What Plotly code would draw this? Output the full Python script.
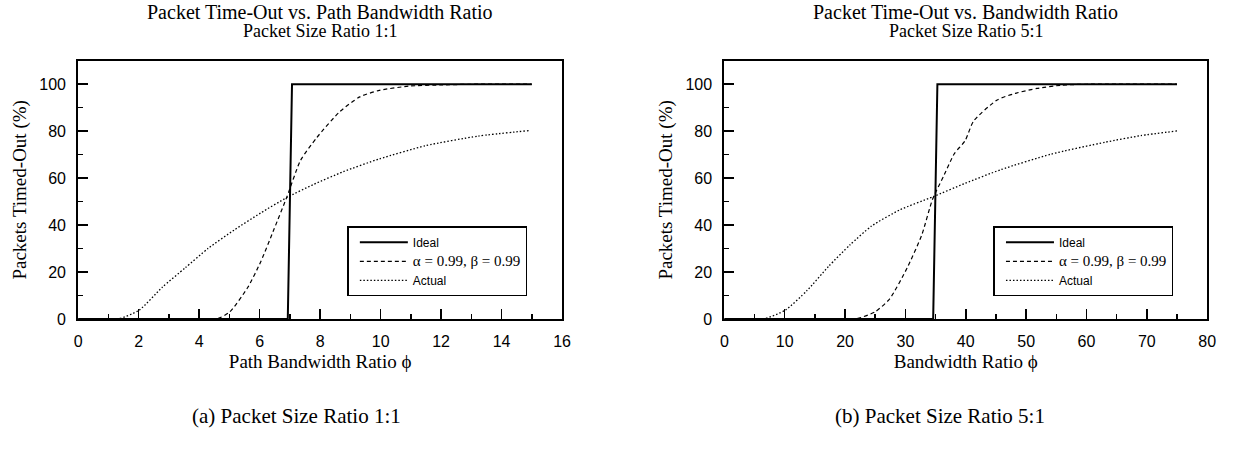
import plotly.graph_objects as go

# ---------------- data ----------------
# (a) Packet size ratio 1:1
a_ideal_x = [0, 6.93, 7.07, 15]
a_ideal_y = [0, 0, 100, 100]
a_ab_x = [0, 4.57, 5.01, 5.61, 6.04, 6.48, 6.91, 7.35, 7.89, 8.65, 9.31, 9.96, 10.94, 12.03, 13.0, 15]
a_ab_y = [0, 0, 3.0, 13.5, 24.5, 38.4, 52.3, 67.5, 77.3, 88.3, 94.6, 97.4, 99.2, 99.7, 100, 100]
a_act_x = [0, 1.31, 2.01, 2.78, 3.54, 4.30, 5.17, 6.04, 6.91, 7.78, 8.76, 9.96, 11.48, 13.22, 14.94]
a_act_y = [0, 0, 3.7, 13.5, 21.8, 30.1, 38.0, 45.2, 51.8, 57.3, 62.7, 68.2, 73.8, 77.9, 80.3]

# (b) Packet size ratio 5:1
b_ideal_x = [0, 34.6, 35.3, 75]
b_ideal_y = [0, 0, 100, 100]
b_ab_x = [0, 21.7, 25.0, 27.4, 30.3, 32.7, 34.5, 36.3, 38.1, 39.9, 41.3, 45.2, 48.2, 51.8, 55.9, 60.0, 75]
b_ab_y = [0, 0, 3.1, 8.6, 21.8, 35.7, 51.0, 60.7, 70.4, 76.0, 84.3, 93.3, 96.1, 98.2, 99.6, 100, 100]
b_act_x = [0, 6.5, 10.1, 13.7, 17.3, 20.8, 24.4, 29.1, 34.5, 39.9, 45.8, 54.1, 63.1, 69.0, 75]
b_act_y = [0, 0, 3.75, 12.1, 22.5, 31.5, 39.6, 46.5, 52.0, 57.8, 63.6, 70.2, 75.3, 78.1, 80.1]

series_names = ["Ideal", "α = 0.99, β = 0.99", "Actual"]
titles = ["Packet Time-Out vs. Path Bandwidth Ratio", "Packet Time-Out vs. Bandwidth Ratio"]
subtitles = ["Packet Size Ratio 1:1", "Packet Size Ratio 5:1"]
x_titles = ["Path Bandwidth Ratio ϕ", "Bandwidth Ratio ϕ"]
y_title = "Packets Timed-Out (%)"
captions = ["(a) Packet Size Ratio 1:1", "(b) Packet Size Ratio 5:1"]

# ---------------- figure ----------------
W, H = 1234, 449
SERIF = "Liberation Serif, Times New Roman, serif"
SANS = "Liberation Sans, Arial, sans-serif"

fig = go.Figure()

styles = [dict(color="black", width=2, dash="solid"),
          dict(color="black", width=1.2, dash="4px,3px"),
          dict(color="black", width=1.3, dash="1.5px,2px")]

legend_names = [series_names[0],
                '<span style="font-family:Liberation Serif;font-size:15px">' + series_names[1] + '</span>',
                series_names[2]]

panels = [
    ("x", "y", "legend", [(a_ideal_x, a_ideal_y), (a_ab_x, a_ab_y), (a_act_x, a_act_y)]),
    ("x2", "y2", "legend2", [(b_ideal_x, b_ideal_y), (b_ab_x, b_ab_y), (b_act_x, b_act_y)]),
]
for xa, ya, lg, data in panels:
    for i, (xs, ys) in enumerate(data):
        fig.add_trace(go.Scatter(
            x=xs, y=ys, mode="lines", name=legend_names[i],
            line=dict(shape="linear" if i == 0 else "spline", smoothing=0.6, **styles[i]),
            xaxis=xa, yaxis=ya, legend=lg, showlegend=True, hoverinfo="skip"))

def px_x(p):
    return p / W

def px_y(p):
    return 1 - p / H

axis_common = dict(showgrid=False, zeroline=False, showline=True, linecolor="black", linewidth=2,
                   mirror=True, ticks="inside", ticklen=10, tickwidth=1.5, tickcolor="black",
                   tickfont=dict(family=SANS, size=16, color="black"),
                   ticklabelstandoff=7)

def minor(d):
    return dict(dtick=d, ticklen=5, tickwidth=1.5, tickcolor="black", ticks="inside")

def ttl(t, s):
    return dict(text=t, font=dict(family=SERIF, size=19, color="black"), standoff=s)

legend_common = dict(xanchor="left", yanchor="top", bordercolor="black", borderwidth=1.5,
                     bgcolor="white", font=dict(family=SANS, size=12, color="black"),
                     itemwidth=48, indentation=6, tracegroupgap=0)

fig.update_layout(
    width=W, height=H, margin=dict(l=0, r=0, t=0, b=0),
    paper_bgcolor="white", plot_bgcolor="white",
    xaxis=dict(axis_common, domain=[px_x(75), px_x(564)], range=[0, 16], dtick=2, tick0=0,
               minor=minor(1), title=ttl(x_titles[0], 6), anchor="y"),
    yaxis=dict(axis_common, domain=[px_y(325.5), px_y(62)], range=[0, 110], dtick=20, tick0=0,
               minor=minor(10), title=ttl(y_title, 8), anchor="x"),
    xaxis2=dict(axis_common, domain=[px_x(728), px_x(1216)], range=[0, 80], dtick=10, tick0=0,
                minor=minor(5), title=ttl(x_titles[1], 6), anchor="y2"),
    yaxis2=dict(axis_common, domain=[px_y(325.5), px_y(62)], range=[0, 110], dtick=20, tick0=0,
                minor=minor(10), title=ttl(y_title, 8), anchor="x2"),
    legend=dict(legend_common, x=px_x(347), y=px_y(231)),
    legend2=dict(legend_common, x=px_x(1000), y=px_y(231)),
)

# titles
for cx, t, st in zip([px_x(319.5), px_x(972)], titles, subtitles):
    fig.add_annotation(text=t, x=cx, y=px_y(12), xref="paper", yref="paper",
                       xanchor="center", yanchor="middle", showarrow=False,
                       font=dict(family=SERIF, size=20, color="black"))
    fig.add_annotation(text=st, x=cx, y=px_y(32), xref="paper", yref="paper",
                       xanchor="center", yanchor="middle", showarrow=False,
                       font=dict(family=SERIF, size=18, color="black"))
# captions
for cx, t in zip([px_x(296), px_x(946)], captions):
    fig.add_annotation(text=t, x=cx, y=px_y(424), xref="paper", yref="paper",
                       xanchor="center", yanchor="middle", showarrow=False,
                       font=dict(family=SERIF, size=21, color="black"))

fig.write_html("out.html", config={"displayModeBar": False, "staticPlot": True},
               post_script="document.body.style.margin='0';document.body.style.overflow='hidden';")
